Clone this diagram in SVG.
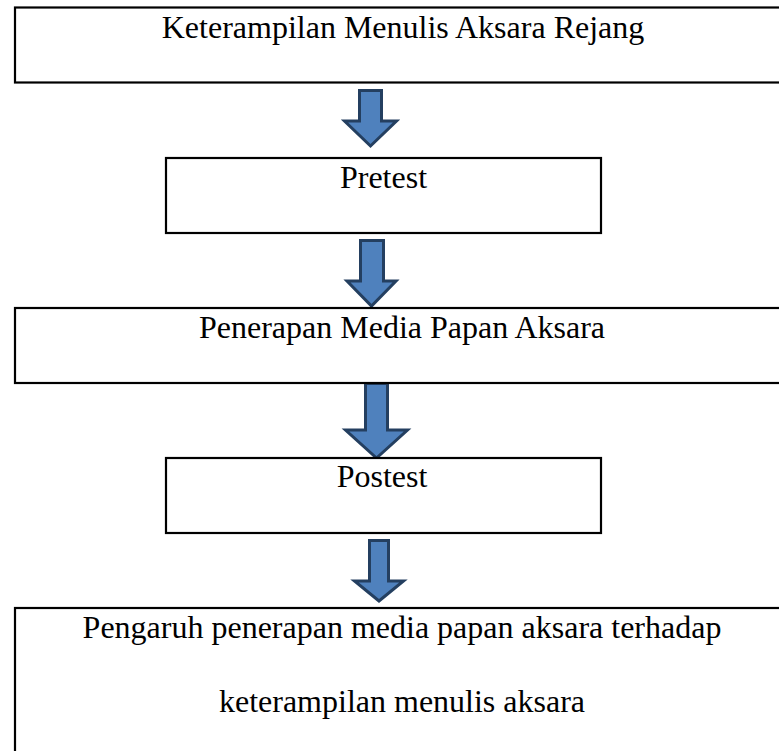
<svg xmlns="http://www.w3.org/2000/svg" width="779" height="751" viewBox="0 0 779 751">
<style>
.box{fill:#ffffff;stroke:#000000;stroke-width:2.2}
.lbl{font-family:"Liberation Serif","Times New Roman",serif;font-size:32px;fill:#000000;text-anchor:middle}
.arr{fill:#4F81BD;stroke:#243F60;stroke-width:3;stroke-linejoin:miter}
</style>
<rect width="779" height="751" fill="#ffffff"/>
<g id="connectors">
<polygon class="arr" points="359.5,90.5 381.5,90.5 381.5,121 396.5,121 370.5,146 344.5,121 359.5,121"/>
<polygon class="arr" points="360.5,240.5 383.5,240.5 383.5,281 396,281 371.5,306 347,281 360.5,281"/>
<polygon class="arr" points="365.5,383.5 387.5,383.5 387.5,430 407.5,430 376.5,458 345.5,430 365.5,430"/>
<polygon class="arr" points="369.5,540.5 388.5,540.5 388.5,581 403.5,581 379,601 354.5,581 369.5,581"/>
</g>
<g id="node1">
<rect class="box" x="15" y="7.5" width="790" height="75"/>
<text class="lbl" x="403" y="37.5">Keterampilan Menulis Aksara Rejang</text>
</g>
<g id="node2">
<rect class="box" x="166" y="158" width="435" height="75"/>
<text class="lbl" x="383.5" y="188">Pretest</text>
</g>
<g id="node3">
<rect class="box" x="15" y="308" width="790" height="75"/>
<text class="lbl" x="402" y="338">Penerapan Media Papan Aksara</text>
</g>
<g id="node4">
<rect class="box" x="166" y="458" width="435" height="75"/>
<text class="lbl" x="382" y="487">Postest</text>
</g>
<g id="node5">
<rect class="box" x="15" y="608" width="790" height="160"/>
<text class="lbl" x="402" y="638">Pengaruh penerapan media papan aksara terhadap</text>
<text class="lbl" x="402" y="712">keterampilan menulis aksara</text>
</g>
</svg>
